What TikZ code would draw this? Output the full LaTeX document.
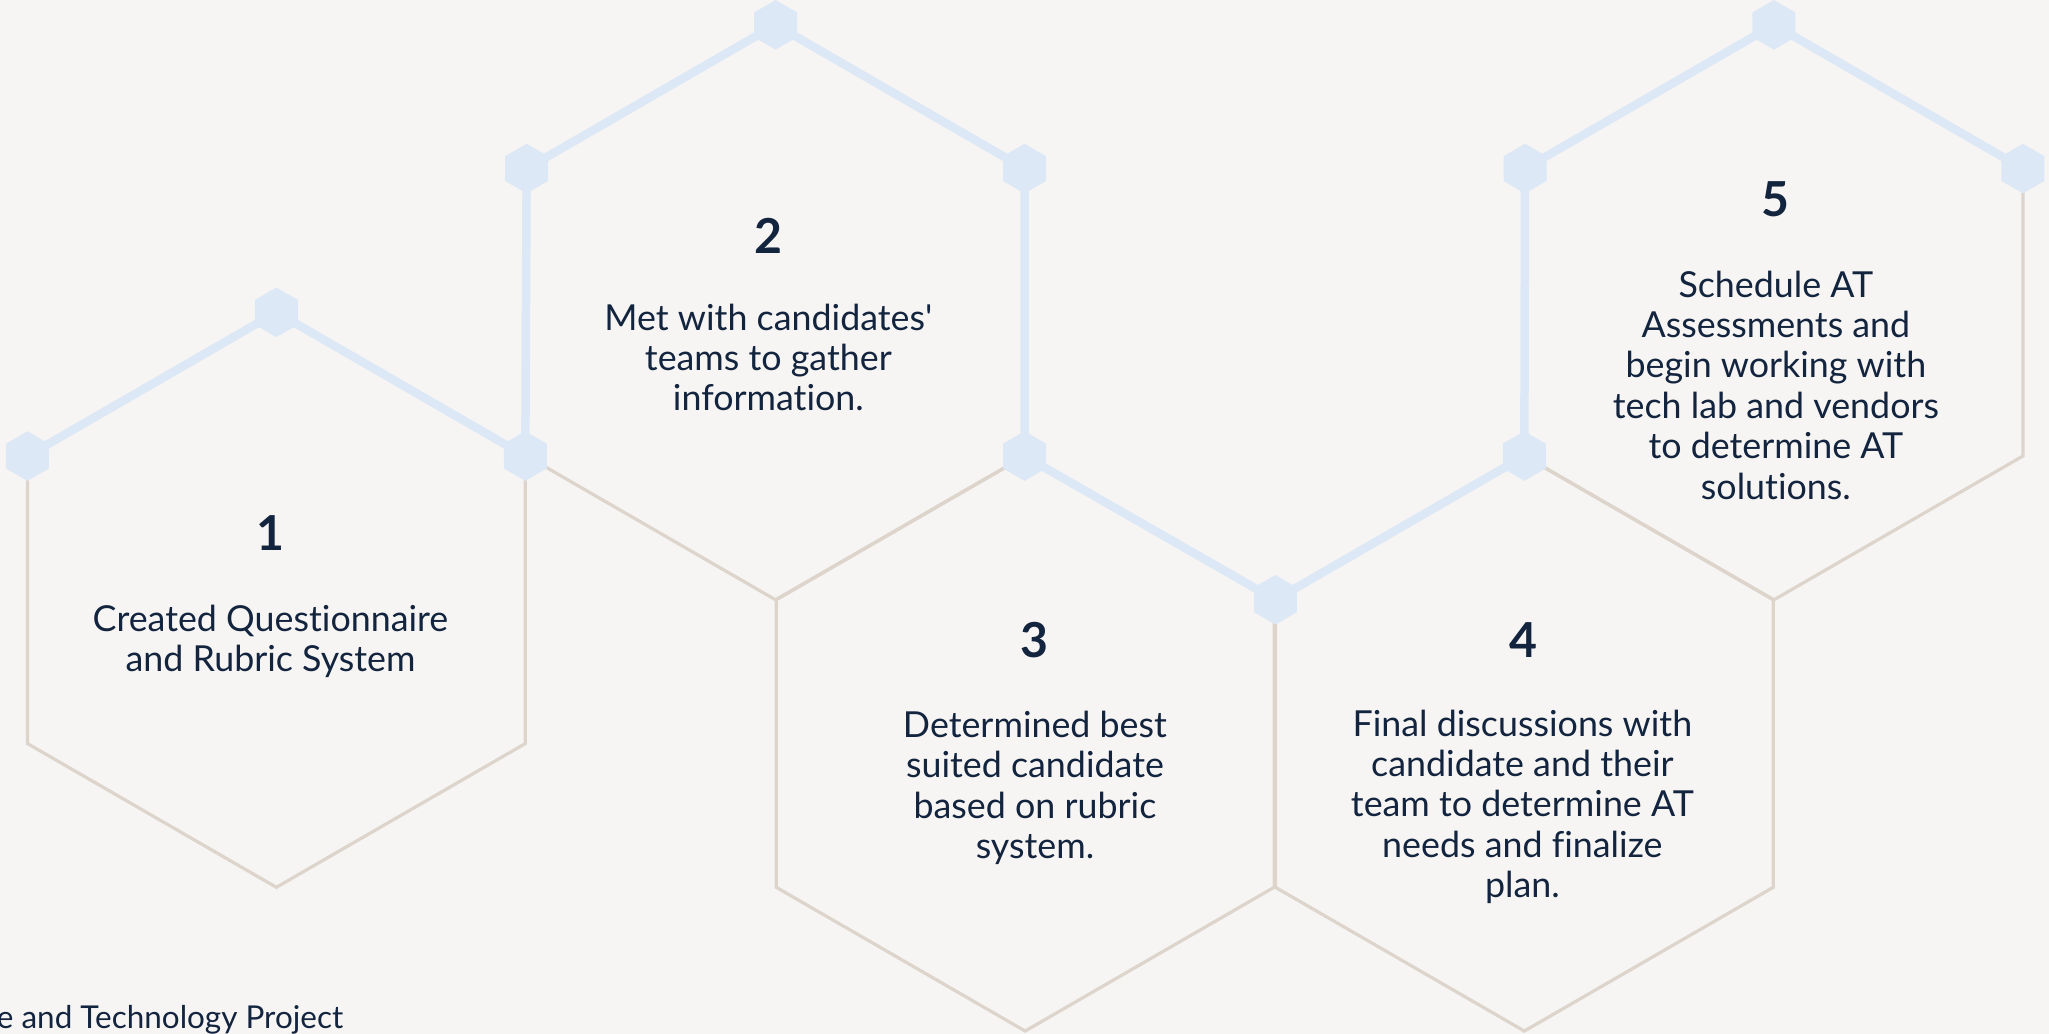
\documentclass[tikz,border=0pt]{standalone}
\usepackage{fontspec}
\setmainfont{Lato}[Ligatures={TeXOff,CommonOff}]
\usepackage{tikz}
\usetikzlibrary{shapes.geometric, calc}
\definecolor{paper}{HTML}{F7F5F3}
\definecolor{ink}{HTML}{13243F}
\definecolor{tan}{HTML}{DDD4CC}
\definecolor{pale}{HTML}{DCE8F6}

\begin{document}
\begin{tikzpicture}[
  x=0.02cm, y=-0.02cm,
  cell/.style={draw=tan, line width=1.4pt},
  link/.style={draw=pale, line width=3.7pt, line join=round},
  knot/.style={regular polygon, regular polygon sides=6, rotate=30, fill=pale, inner sep=0pt, minimum size=0.76cm},
  num/.style={font=\fontsize{21}{24}\selectfont\bfseries, text=ink, anchor=base, inner sep=0pt},
  desc/.style={font=\fontsize{15.6}{17.6}\selectfont, text=ink, align=center, anchor=base, inner sep=0pt},
  foot/.style={font=\fontsize{13.7}{16}\selectfont, text=ink, anchor=base east, inner sep=0pt},
]

% Page
\fill[paper] (0,0) rectangle (1568,791);
\useasboundingbox (0,0) rectangle (1568,791);

% Cells
\coordinate (h1) at (211.5,459);
\coordinate (h2) at (593.5,239);
\coordinate (h3) at (784.5,569);
\coordinate (h4) at (1166.5,569);
\coordinate (h5) at (1357.5,239);

\foreach \i in {1,...,5} {
  \coordinate (h\i-t) at ($(h\i)+(0,-220)$);
  \coordinate (h\i-ur) at ($(h\i)+(190.5,-110)$);
  \coordinate (h\i-lr) at ($(h\i)+(190.5,110)$);
  \coordinate (h\i-b) at ($(h\i)+(0,220)$);
  \coordinate (h\i-ll) at ($(h\i)+(-190.5,110)$);
  \coordinate (h\i-ul) at ($(h\i)+(-190.5,-110)$);
}

\foreach \i in {1,...,5}
  \draw[cell] (h\i-t) -- (h\i-ur) -- (h\i-lr) -- (h\i-b) -- (h\i-ll) -- (h\i-ul) -- cycle;

% Path
\draw[link] (h1-ul) -- (h1-t) -- (h1-ur) -- (h2-ul) -- (h2-t) -- (h2-ur) -- (h2-lr)
  -- (h4-ul) -- (h4-t) -- (h5-ul) -- (h5-t) -- (h5-ur);

\foreach \v [count=\k] in {h1-ul, h1-t, h1-ur, h2-ul, h2-t, h2-ur, h2-lr, h4-ul, h4-t, h5-ul, h5-t, h5-ur}
  \node[knot] (k\k) at (\v) {};

% Labels (text nodes sit on the baseline of their last line)
\node[num] (n1) at (207,421) {1};
\node[desc] (d1) at (207,514) {Created Questionnaire\\and Rubric System};

\node[num] (n2) at (588,194) {2};
\node[desc] (d2) at (588,314.5) {Met with candidates'\\teams to gather\\information.};

\node[num] (n3) at (792,503) {3};
\node[desc] (d3) at (792,657) {Determined best\\suited candidate\\based on rubric\\system.};

\node[num] (n4) at (1166,503) {4};
\node[desc] (d4) at (1165,687) {Final discussions with\\candidate and their\\team to determine AT\\needs and finalize\\plan.};

\node[num] (n5) at (1359,166) {5};
\node[desc] (d5) at (1359,382) {Schedule AT\\Assessments and\\begin working with\\tech lab and vendors\\to determine AT\\solutions.};

\node[foot] (src) at (263,787) {e and Technology Project};

\end{tikzpicture}
\end{document}
